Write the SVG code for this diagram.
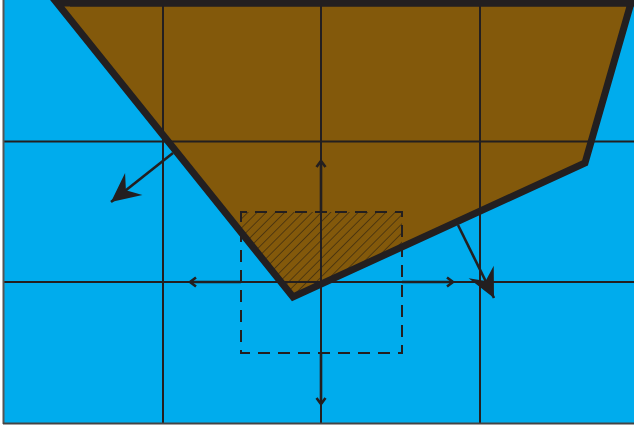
<svg xmlns="http://www.w3.org/2000/svg" width="634" height="427" viewBox="0 0 634 427">
<style>
.grid{stroke:#231f20;stroke-width:2;fill:none}
.outline{fill:none;stroke:#231f20;stroke-width:7;stroke-linejoin:miter}
.dash{fill:none;stroke:#231f20;stroke-width:2;stroke-dasharray:12 8;stroke-dashoffset:6}
.small{stroke:#231f20;stroke-width:2.6;fill:none;marker-end:url(#chev)}
.big{stroke:#231f20;stroke-width:2.6;fill:none;marker-end:url(#barb)}
</style>
<defs>
<marker id="chev" markerUnits="userSpaceOnUse" markerWidth="14" markerHeight="14" viewBox="-8 -7 10 14" refX="0" refY="0" orient="auto">
<path d="M-6,-4.5 L0,0 L-6,4.5" fill="none" stroke="#231f20" stroke-width="2.6"/>
</marker>
<marker id="barb" markerUnits="userSpaceOnUse" markerWidth="40" markerHeight="40" viewBox="-32 -20 34 40" refX="0" refY="0" orient="auto">
<path d="M0,0 L-29,-14 L-19,0 L-29,14 Z" fill="#231f20"/>
</marker>
<pattern id="hatch" patternUnits="userSpaceOnUse" width="6.5" height="6.5" patternTransform="rotate(45)">
<line x1="0" y1="0" x2="0" y2="6.5" stroke="#2e2210" stroke-width="1.2"/>
</pattern>
<clipPath id="polyclip">
<polygon points="57,3 631,3 585,163 293,297"/>
</clipPath>
</defs>
<rect x="4" y="0" width="630" height="423" fill="#00aced"/>
<g id="region">
<polygon points="57,3 631,3 585,163 293,297" fill="#83590b"/>
<rect x="241" y="212" width="161" height="141" fill="url(#hatch)" clip-path="url(#polyclip)"/>
</g>
<g id="grid">
<line class="grid" x1="163" y1="0" x2="163" y2="423"/>
<line class="grid" x1="321" y1="0" x2="321" y2="423"/>
<line class="grid" x1="480" y1="0" x2="480" y2="423"/>
<line class="grid" x1="4" y1="141.5" x2="634" y2="141.5"/>
<line class="grid" x1="4" y1="282" x2="634" y2="282"/>
</g>
<g id="border">
<line x1="3.5" y1="0" x2="3.5" y2="424" stroke="#555" stroke-width="2"/>
<line x1="3" y1="423.5" x2="634" y2="423.5" stroke="#444" stroke-width="2"/>
</g>
<g id="outline">
<polygon class="outline" points="57,3 631,3 585,163 293,297"/>
<line x1="70" y1="3" x2="634" y2="3" stroke="#231f20" stroke-width="7"/>
</g>
<g id="window">
<rect class="dash" x="241" y="212" width="161" height="141"/>
</g>
<g id="connectors">
<line class="small" x1="321" y1="212" x2="321" y2="161"/>
<line class="small" x1="321" y1="353" x2="321" y2="404"/>
<line class="small" x1="241" y1="282" x2="190" y2="282"/>
<line class="small" x1="402" y1="282" x2="453" y2="282"/>
<line class="big" x1="173" y1="153" x2="111" y2="202"/>
<line class="big" x1="458" y1="225" x2="494" y2="298"/>
</g>
</svg>
